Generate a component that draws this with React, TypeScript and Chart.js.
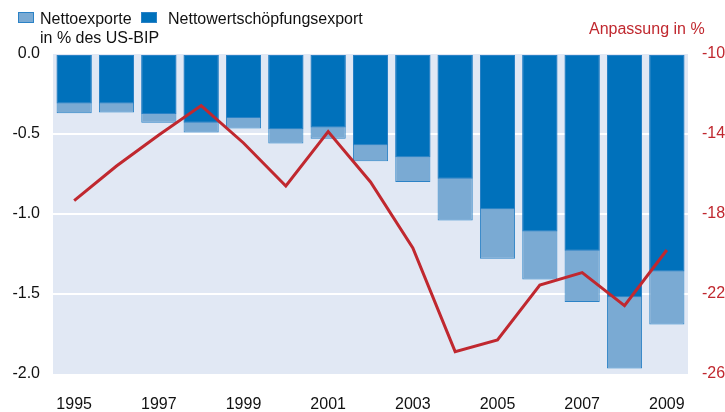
import React, { useEffect, useRef } from "react";
import { Chart, registerables } from "chart.js";

Chart.register(...registerables);

const years = ["1995","1996","1997","1998","1999","2000","2001","2002","2003","2004","2005","2006","2007","2008","2009"];
const nettoexporte = [-0.37,-0.365,-0.43,-0.49,-0.465,-0.56,-0.53,-0.67,-0.80,-1.04,-1.28,-1.41,-1.55,-1.965,-1.69];
const wertschoepfung = [-0.31,-0.31,-0.375,-0.43,-0.40,-0.47,-0.46,-0.57,-0.646,-0.78,-0.97,-1.11,-1.23,-1.52,-1.36];
const anpassung = [-17.33,-15.6,-14.05,-12.58,-14.45,-16.6,-13.88,-16.4,-19.7,-24.88,-24.3,-21.55,-20.93,-22.58,-19.8];

const leftTicks = [0, -0.5, -1.0, -1.5, -2.0];
const rightTicks = [-10, -14, -18, -22, -26];

const DARK = "#0071bb";
const LIGHT = "#7aaad3";
const BORDER = "#2b82c6";
const RED = "#c0282f";
const BG = "#e1e8f4";
const FONT = "'Liberation Sans', Arial, sans-serif";

export default function App() {
  const ref = useRef<HTMLCanvasElement | null>(null);
  useEffect(() => {
    if (!ref.current) return;
    const bgPlugin = {
      id: "plotbg",
      beforeDraw(chart: any) {
        const { ctx, chartArea } = chart;
        ctx.save();
        ctx.fillStyle = BG;
        ctx.fillRect(chartArea.left, chartArea.top, chartArea.right - chartArea.left, chartArea.bottom - chartArea.top);
        ctx.restore();
      },
    };
    const chart = new Chart(ref.current, {
      type: "bar",
      data: {
        labels: years,
        datasets: [
          {
            type: "line",
            label: "Anpassung",
            data: anpassung,
            yAxisID: "y1",
            borderColor: RED,
            borderWidth: 3,
            pointRadius: 0,
            tension: 0,
            order: 0,
          } as any,
          {
            label: "Nettowertschöpfungsexport",
            data: wertschoepfung,
            backgroundColor: DARK,
            borderColor: BORDER,
            borderWidth: 1,
            borderSkipped: false,
            grouped: false,
            barPercentage: 0.83,
            categoryPercentage: 1,
            yAxisID: "y",
            order: 1,
          },
          {
            label: "Nettoexporte",
            data: nettoexporte,
            backgroundColor: LIGHT,
            borderColor: BORDER,
            borderWidth: 1,
            borderSkipped: false,
            grouped: false,
            barPercentage: 0.83,
            categoryPercentage: 1,
            yAxisID: "y",
            order: 2,
          },
        ],
      },
      options: {
        responsive: false,
        animation: false,
        devicePixelRatio: 1,
        layout: { padding: { top: 54, left: 0, right: 0, bottom: 0 } },
        plugins: { legend: { display: false }, tooltip: { enabled: false } },
        scales: {
          x: {
            grid: { display: false, drawTicks: false },
            border: { display: false },
            afterFit(scale: any) { scale.height = 38; },
            ticks: {
              autoSkip: false,
              maxRotation: 0,
              padding: 21,
              color: "#111",
              font: { family: FONT, size: 16 },
              callback: (_v: any, i: number) => (i % 2 === 0 ? years[i] : ""),
            },
          },
          y: {
            position: "left",
            min: -2,
            max: 0,
            afterFit(scale: any) { scale.width = 53; },
            afterBuildTicks(scale: any) { scale.ticks = leftTicks.map((v) => ({ value: v })); },
            grid: {
              drawTicks: false,
              lineWidth: 2,
              color: (c: any) => (c.tick && (c.tick.value === 0 || c.tick.value === -2) ? "rgba(0,0,0,0)" : "#ffffff"),
            },
            border: { display: false },
            ticks: {
              padding: 13,
              color: "#111",
              font: { family: FONT, size: 16 },
              callback: (v: any) => Number(v).toFixed(1),
            },
          },
          y1: {
            position: "right",
            min: -26,
            max: -10,
            afterFit(scale: any) { scale.width = 37; },
            afterBuildTicks(scale: any) { scale.ticks = rightTicks.map((v) => ({ value: v })); },
            grid: { display: false, drawTicks: false },
            border: { display: false },
            ticks: {
              padding: 14,
              color: RED,
              font: { family: FONT, size: 16 },
              callback: (v: any) => String(v),
            },
          },
        },
      },
      plugins: [bgPlugin],
    });
    return () => chart.destroy();
  }, []);

  const txt: React.CSSProperties = {
    position: "absolute",
    fontFamily: FONT,
    fontSize: 16,
    lineHeight: "16px",
    color: "#111",
    whiteSpace: "nowrap",
  };
  return (
    <div style={{ position: "fixed", left: 0, top: 0, width: 725, height: 412, background: "#fff" }}>
      <canvas ref={ref} width={725} height={412} style={{ position: "absolute", left: 0, top: 0 }} />
      <div style={{ position: "absolute", left: 18, top: 12, width: 14, height: 9, background: LIGHT, border: `1px solid ${BORDER}` }} />
      <div style={{ ...txt, left: 40, top: 11 }}>Nettoexporte</div>
      <div style={{ position: "absolute", left: 141, top: 12, width: 14, height: 9, background: DARK, border: `1px solid ${BORDER}` }} />
      <div style={{ ...txt, left: 168, top: 11 }}>Nettowertschöpfungsexport</div>
      <div style={{ ...txt, left: 40, top: 30 }}>in % des US-BIP</div>
      <div style={{ ...txt, left: 589, top: 21, color: RED }}>Anpassung in %</div>
    </div>
  );
}
